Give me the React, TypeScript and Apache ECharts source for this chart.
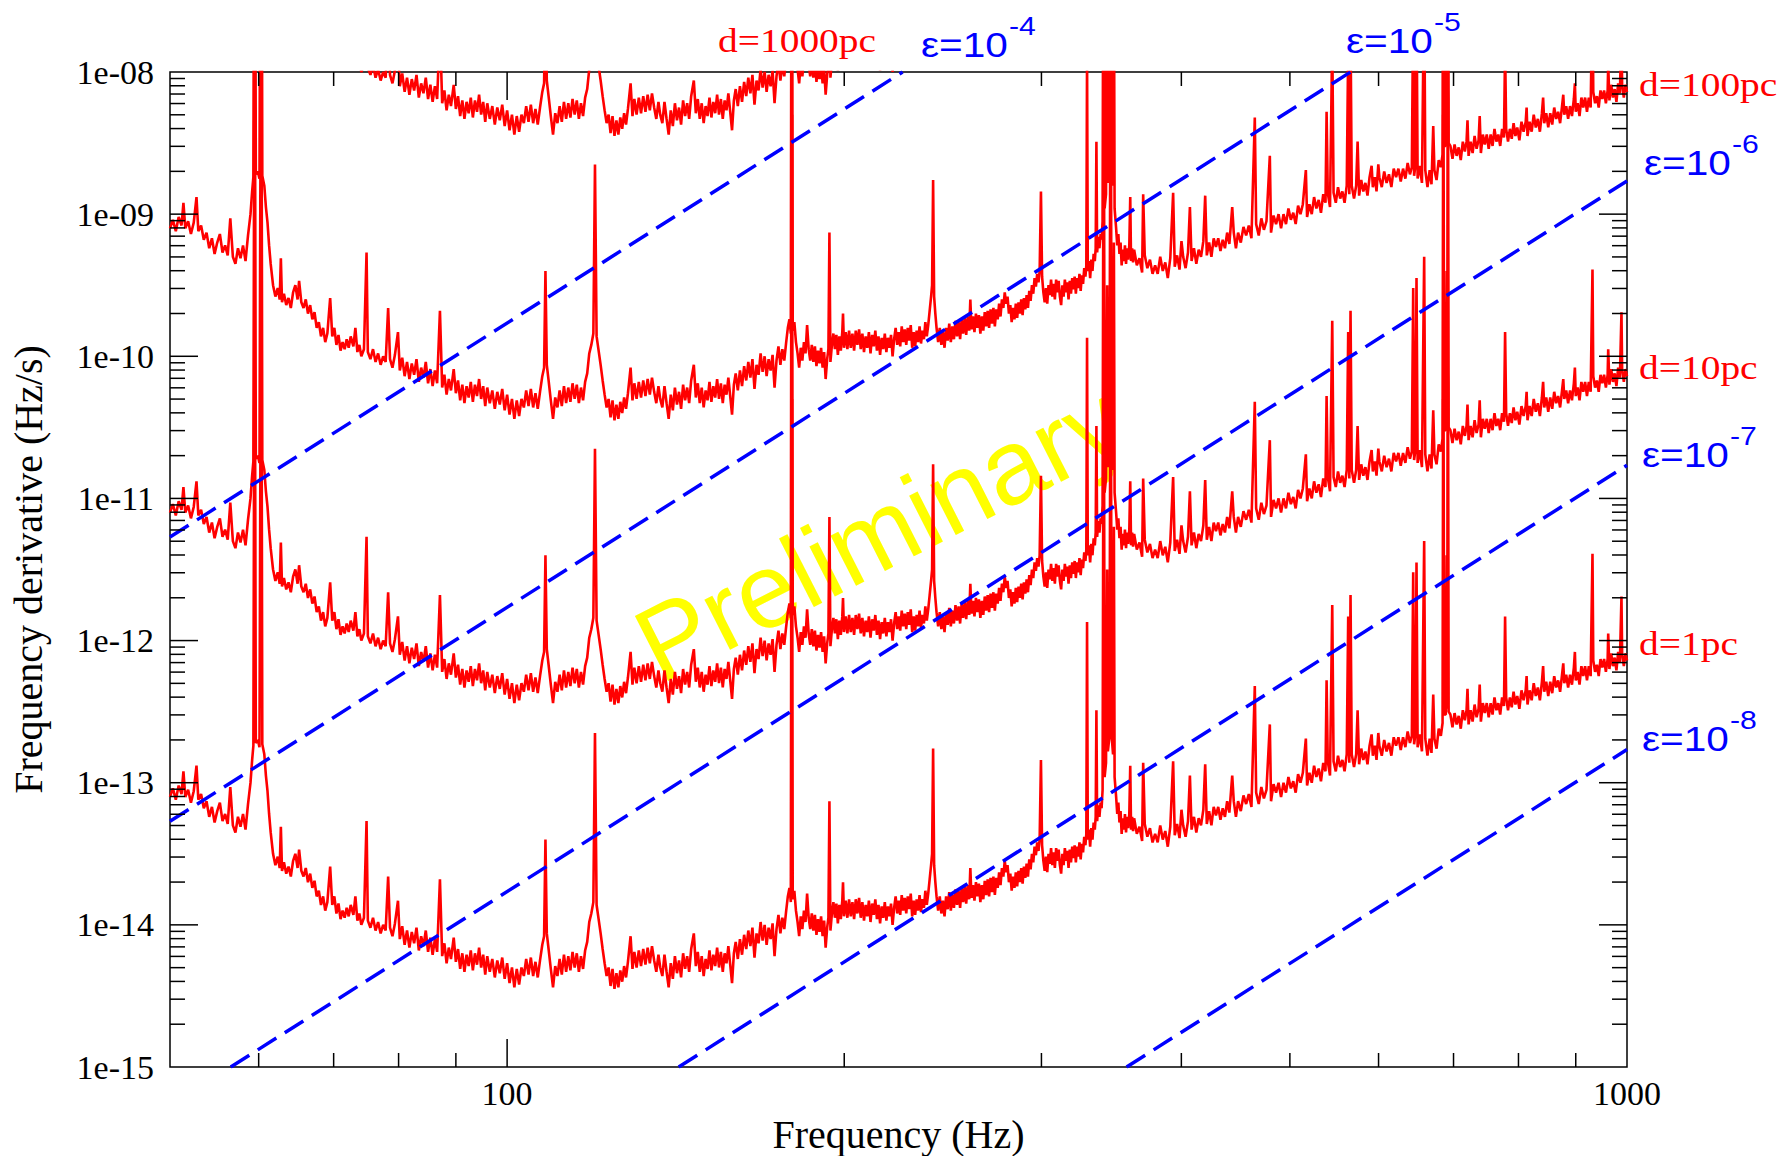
import React, { useEffect, useRef } from 'react';
import * as echarts from 'echarts';

const SERIF = "'Liberation Serif', 'Times New Roman', Times, serif";
const SANS = "'Liberation Sans', Arial, Helvetica, sans-serif";

const FREQ_MIN = 50;
const FREQ_MAX = 1000;
const FDOT_MIN = 1e-15;
const FDOT_MAX = 1e-8;

// Source distances in parsec; the detectable spin-down scales as d^2.
const DISTANCES_PC = [1, 10, 100, 1000];

// log10 of the smallest detectable frequency derivative (Hz/s) for a source at 1 pc.
const LOW_BAND: [number, number][] = [
  [50.0,-13.10],[50.3,-13.04],[50.6,-13.12],[50.9,-13.02],[51.2,-13.08],[51.4,-12.92],[51.6,-13.10],[51.9,-13.05],
  [52.2,-13.14],[52.5,-13.06],[52.8,-12.88],[53.0,-13.12],[53.3,-13.08],[53.6,-13.18],[53.9,-13.13],[54.2,-13.24],
  [54.5,-13.17],[54.8,-13.28],[55.1,-13.20],[55.4,-13.14],[55.7,-13.27],[56.0,-13.22],[56.3,-13.29],[56.6,-13.03],
  [56.9,-13.30],[57.2,-13.35],[57.5,-13.24],[57.8,-13.31],[58.1,-13.22],[58.4,-13.33],[58.7,-13.15],[59.0,-13.00],
  [59.2,-12.84],[59.35,-12.74],[59.45,-10.35],[59.55,-10.25],[59.65,-12.72],[59.9,-12.70],[60.1,-12.75],[60.25,-10.05],
  [60.35,-10.00],[60.45,-12.73],[60.7,-12.80],[60.9,-12.95],[61.1,-13.06],[61.3,-13.22],[61.5,-13.35],[61.8,-13.50],
  [62.1,-13.58],[62.4,-13.52],[62.65,-13.60],[62.8,-13.31],[62.95,-13.62],[63.2,-13.56],[63.5,-13.64],[63.8,-13.59],
  [64.1,-13.66],[64.4,-13.55],[64.7,-13.50],[65.0,-13.60],[65.2,-13.47],[65.5,-13.62],[65.8,-13.66],[66.1,-13.60],
  [66.4,-13.70],[66.7,-13.64],[67.0,-13.74],[67.3,-13.69],[67.6,-13.80],[67.9,-13.76],[68.2,-13.86],[68.5,-13.80],
  [68.8,-13.90],[69.1,-13.84],[69.5,-13.59],[69.8,-13.86],[70.1,-13.80],[70.4,-13.92],[70.7,-13.85],[71.0,-13.96],
  [71.3,-13.90],[71.6,-13.95],[71.9,-13.88],[72.2,-13.94],[72.5,-13.86],[72.9,-13.93],[73.2,-13.80],[73.5,-13.97],
  [73.8,-13.92],[74.1,-14.00],[74.5,-13.95],[74.9,-13.27],[75.1,-13.97],[75.5,-14.02],[75.9,-13.95],[76.3,-14.04],
  [76.7,-13.98],[77.1,-14.06],[77.5,-14.00],[77.9,-14.04],[78.3,-13.66],[78.6,-14.02],[79.0,-14.08],[79.4,-13.99],
  [79.9,-13.83],[80.2,-14.10],[80.6,-14.01],[81.0,-14.14],[81.4,-14.04],[81.8,-14.16],[82.2,-14.05],[82.6,-14.13],
  [83.0,-14.02],[83.4,-14.18],[83.8,-14.08],[84.2,-14.15],[84.6,-14.04],[85.0,-14.19],[85.4,-14.09],[85.8,-14.21],
  [86.2,-14.10],[86.6,-14.19],[87.1,-13.68],[87.5,-14.22],[87.9,-14.13],[88.3,-14.27],[88.7,-14.16],[89.1,-14.24],
  [89.6,-14.09],[90.0,-14.26],[90.4,-14.17],[90.8,-14.31],[91.2,-14.20],[91.6,-14.33],[92.0,-14.21],[92.4,-14.29],
  [92.8,-14.18],[93.2,-14.32],[93.6,-14.20],[94.0,-14.28],[94.4,-14.16],[94.8,-14.30],[95.2,-14.21],[95.6,-14.35],
  [96.0,-14.22],[96.5,-14.33],[97.0,-14.24],[97.5,-14.37],[98.0,-14.25],[98.5,-14.34],[99.0,-14.23],[99.5,-14.38],
  [100.0,-14.27],[100.5,-14.41],[101.0,-14.30],[101.5,-14.44],[102.0,-14.31],[102.5,-14.42],[103.0,-14.30],[103.5,-14.36],
  [104.0,-14.24],[104.5,-14.35],[105.0,-14.23],[105.5,-14.36],[106.0,-14.26],[106.5,-14.37],[107.0,-14.25],[107.5,-14.14],
  [107.9,-14.08],[108.2,-13.40],[108.5,-14.06],[108.9,-14.17],[109.4,-14.31],[109.9,-14.44],[110.4,-14.29],[110.9,-14.36],
  [111.4,-14.24],[111.9,-14.35],[112.4,-14.21],[112.9,-14.33],[113.4,-14.22],[113.9,-14.32],[114.4,-14.19],[114.9,-14.30],
  [115.4,-14.20],[115.9,-14.33],[116.4,-14.22],[116.9,-14.31],[117.4,-14.18],[117.9,-14.12],[118.4,-13.98],[118.9,-13.92],
  [119.4,-13.84],[119.8,-12.65],[120.2,-13.86],[120.7,-13.96],[121.2,-14.06],[121.7,-14.17],[122.2,-14.27],[122.7,-14.36],
  [123.2,-14.30],[123.7,-14.43],[124.2,-14.31],[124.7,-14.45],[125.2,-14.34],[125.7,-14.44],[126.2,-14.32],[126.7,-14.40],
  [127.2,-14.29],[127.7,-14.37],[128.2,-14.26],[128.9,-14.08],[129.4,-14.31],[129.9,-14.19],[130.5,-14.30],[131.1,-14.18],
  [131.7,-14.29],[132.3,-14.17],[132.9,-14.28],[133.5,-14.16],[134.1,-14.27],[134.7,-14.15],[135.3,-14.25],[135.9,-14.33],
  [136.5,-14.21],[137.0,-14.30],
];

const MID_BAND: [number, number][] = [
  [137.6,-14.36],[138.2,-14.21],[138.8,-14.33],[139.4,-14.44],[140.0,-14.27],[140.6,-14.38],[141.2,-14.22],[141.8,-14.34],
  [142.4,-14.25],[143.0,-14.37],[143.6,-14.20],[144.2,-14.31],[144.8,-14.22],[145.4,-14.33],[146.0,-14.17],[146.8,-14.06],
  [147.4,-14.29],[148.0,-14.19],[148.6,-14.33],[149.2,-14.22],[149.8,-14.36],[150.4,-14.24],[151.0,-14.31],[151.6,-14.18],
  [152.2,-14.32],[152.8,-14.21],[153.4,-14.29],[154.0,-14.16],[154.6,-14.30],[155.2,-14.19],[155.8,-14.33],[156.4,-14.20],
  [157.0,-14.27],[157.6,-14.15],[158.2,-14.28],[158.8,-14.41],[159.4,-14.20],[160.0,-14.12],[160.7,-14.24],[161.4,-14.10],
  [162.1,-14.21],[162.8,-14.07],[163.5,-14.17],[164.2,-14.04],[164.9,-14.15],[165.6,-14.02],[166.3,-14.23],[167.0,-14.06],
  [167.7,-14.13],[168.4,-13.98],[169.1,-14.11],[169.8,-14.00],[170.5,-14.14],[171.2,-14.02],[171.9,-14.10],[172.6,-13.99],
  [173.3,-14.22],[174.0,-14.03],[174.7,-13.93],[175.4,-14.06],[176.1,-13.95],[176.8,-14.03],[177.5,-13.90],[178.1,-13.80],
  [178.7,-13.74],[179.2,-13.84],[179.45,-10.35],[179.65,-10.30],[179.9,-13.82],[180.5,-13.76],[181.1,-13.90],[181.7,-13.98],
  [182.3,-14.08],[182.9,-13.94],[183.5,-14.03],[184.1,-13.90],[184.7,-13.98],[185.3,-13.78],[185.9,-13.95],[186.5,-14.03],
  [187.1,-13.92],[187.7,-14.04],[188.3,-13.93],[188.9,-14.07],[189.5,-13.96],[190.1,-14.05],[190.7,-13.94],[191.3,-14.08],
  [191.9,-13.97],[192.5,-14.16],[193.1,-14.02],[193.6,-13.95],[194.0,-13.13],[194.4,-14.04],[195.0,-13.92],[195.6,-13.84],
  [196.2,-13.95],[196.8,-13.85],[197.4,-13.99],[198.0,-13.86],[198.6,-13.96],[199.2,-13.83],[199.5,-13.70],[199.9,-13.94],
  [200.6,-13.83],[201.3,-13.95],[202.0,-13.82],[202.7,-13.94],[203.4,-13.84],[204.1,-13.96],[204.8,-13.82],[205.5,-13.92],
  [206.2,-13.81],[206.9,-13.95],[207.6,-13.84],[208.3,-13.97],[209.0,-13.86],[209.7,-13.94],[210.4,-13.83],[211.1,-13.98],
  [211.8,-13.85],[212.5,-13.93],[213.2,-13.82],[213.9,-13.96],[214.6,-13.86],[215.3,-13.99],[216.0,-13.87],[216.7,-13.95],
  [217.4,-13.84],[218.1,-13.97],[218.8,-13.87],[219.5,-13.94],[220.2,-13.85],[220.9,-14.00],[221.6,-13.88],[222.3,-13.80],
  [223.0,-13.92],[223.7,-13.83],[224.4,-13.93],[225.1,-13.79],[225.8,-13.90],[226.5,-13.81],[227.2,-13.92],[227.9,-13.80],
  [228.6,-13.89],[229.3,-13.78],[230.0,-13.94],[230.7,-13.83],[231.4,-13.93],[232.1,-13.82],[232.8,-13.90],[233.5,-13.79],
  [234.2,-13.91],[234.9,-13.82],[235.6,-13.88],[236.3,-13.76],[237.0,-13.86],[237.7,-13.78],[238.4,-13.68],[239.1,-13.58],
  [239.6,-13.50],[240.1,-12.76],[240.6,-13.58],[241.2,-13.70],[241.8,-13.80],[242.6,-13.90],[243.4,-13.80],[244.2,-13.92],
  [245.0,-13.83],[245.8,-13.94],[246.6,-13.80],[247.4,-13.89],[248.2,-13.77],[249.0,-13.90],[249.8,-13.79],[250.6,-13.88],
  [251.4,-13.75],[252.2,-13.86],[253.0,-13.76],[253.8,-13.88],[254.6,-13.74],[255.4,-13.84],[256.2,-13.73],[257.0,-13.85],
  [257.8,-13.72],[258.6,-13.82],[259.2,-13.60],[259.8,-13.81],[260.6,-13.72],[261.4,-13.83],[262.2,-13.70],[263.0,-13.80],
  [263.8,-13.71],[264.6,-13.84],[265.4,-13.72],[266.2,-13.82],[267.0,-13.69],[267.8,-13.79],[268.6,-13.68],[269.4,-13.80],
  [270.2,-13.67],[271.0,-13.77],[271.8,-13.66],[272.6,-13.79],[273.4,-13.67],[274.2,-13.74],[275.0,-13.63],[275.8,-13.72],
  [276.6,-13.60],[277.4,-13.66],[278.2,-13.55],[279.0,-13.63],[279.8,-13.58],[280.6,-13.70],[281.4,-13.64],[282.2,-13.76],
  [283.0,-13.66],[283.8,-13.74],[284.6,-13.63],[285.4,-13.73],[286.2,-13.62],[287.0,-13.70],[287.8,-13.60],[288.6,-13.71],
  [289.4,-13.59],[290.2,-13.67],[291.0,-13.57],[291.8,-13.66],[292.6,-13.54],[293.4,-13.61],[294.2,-13.50],[295.0,-13.56],
  [295.8,-13.45],[296.6,-13.51],[297.4,-13.42],[298.2,-13.48],[298.9,-13.40],[299.7,-12.84],[300.4,-13.44],[301.2,-13.55],
  [302.0,-13.62],[302.8,-13.52],[303.6,-13.63],[304.4,-13.50],[305.2,-13.57],[306.0,-13.46],[306.8,-13.58],[307.6,-13.49],
  [308.4,-13.60],[309.2,-13.46],[310.0,-13.55],[310.8,-13.47],[311.6,-13.58],[312.4,-13.64],[313.2,-13.50],[314.0,-13.58],
  [314.8,-13.46],[315.6,-13.55],[316.4,-13.48],[317.2,-13.60],[318.0,-13.47],[318.8,-13.56],[319.6,-13.45],[320.4,-13.53],
  [321.2,-13.44],[322.0,-13.56],[322.8,-13.45],[323.6,-13.52],[324.4,-13.42],[325.2,-13.54],[326.0,-13.43],[326.8,-13.49],
  [327.6,-13.38],[328.4,-13.44],[329.0,-13.36],[329.5,-11.87],[330.0,-13.40],[330.8,-13.33],[331.6,-13.45],[332.4,-13.32],
  [333.2,-13.40],[334.0,-13.28],[334.8,-13.33],[335.4,-13.24],[335.9,-12.49],[336.4,-13.27],[337.2,-13.16],[338.0,-13.24],
  [338.8,-13.14],[339.5,-13.18],[340.2,-13.05],[340.8,-10.30],[341.2,-10.40],[341.6,-12.96],[342.6,-12.86],[343.4,-11.50],
  [343.9,-12.78],[345.0,-12.68],[345.7,-10.05],[346.1,-10.00],[346.5,-12.66],[347.6,-12.80],[348.2,-11.20],[348.7,-12.96],
  [349.8,-13.10],[350.6,-13.22],[351.4,-13.14],[352.2,-13.28],[353.0,-13.20],[353.8,-13.36],[354.6,-13.25],[355.4,-13.33],
  [356.2,-13.22],[357.0,-13.35],[357.8,-13.24],[358.6,-13.32],[359.4,-13.22],[360.1,-12.88],[360.7,-13.33],[361.5,-13.24],
  [362.2,-13.34],
];

const HIGH_BAND: [number, number][] = [
  [363.0,-13.25],[365.0,-13.36],[367.0,-13.31],[369.0,-13.41],[369.8,-12.86],[371.0,-13.29],[373.0,-13.38],[375.0,-13.32],
  [377.0,-13.42],[379.0,-13.36],[381.0,-13.42],[383.0,-13.30],[385.0,-13.40],[387.0,-13.34],[389.0,-13.45],[391.0,-13.31],
  [393.3,-12.85],[394.6,-13.37],[396.5,-13.29],[398.5,-13.39],[400.1,-13.19],[401.5,-13.30],[403.5,-13.38],[405.5,-13.27],
  [407.1,-12.95],[408.5,-13.33],[410.5,-13.24],[412.5,-13.35],[414.5,-13.25],[416.5,-13.30],[418.5,-13.19],[420.1,-12.87],
  [421.5,-13.29],[423.5,-13.20],[425.5,-13.30],[427.5,-13.17],[429.5,-13.23],[431.5,-13.17],[433.5,-13.26],[435.5,-13.18],
  [437.5,-13.24],[439.5,-13.13],[441.5,-13.21],[444.1,-12.95],[445.5,-13.13],[447.5,-13.24],[449.5,-13.13],[452.0,-13.20],
  [454.5,-13.09],[457.0,-13.15],[459.5,-13.08],[462.0,-13.17],[465.2,-12.32],[466.5,-13.07],[469.0,-13.15],[471.5,-13.03],
  [474.0,-13.11],[476.5,-13.05],[479.8,-12.59],[481.0,-13.13],[483.5,-13.01],[486.0,-13.07],[488.5,-13.00],[491.0,-13.10],
  [493.5,-13.00],[496.0,-13.07],[498.5,-12.96],[501.0,-13.04],[503.5,-12.99],[506.0,-13.07],[508.5,-12.94],[511.0,-13.00],
  [513.5,-12.93],[516.7,-12.69],[518.0,-13.02],[520.5,-12.93],[523.0,-13.00],[525.5,-12.88],[528.0,-12.96],[530.5,-12.90],
  [533.0,-12.99],[535.5,-12.86],[538.0,-12.92],[539.2,-12.28],[540.5,-12.85],[543.0,-12.95],[545.5,-11.75],[547.0,-12.85],
  [549.5,-12.92],[552.0,-12.81],[554.5,-12.89],[557.0,-12.84],[559.5,-12.92],[562.0,-12.80],[563.7,-11.83],[565.0,-12.86],
  [566.4,-11.68],[567.8,-12.80],[570.5,-12.89],[573.0,-12.80],[574.7,-12.49],[576.5,-12.87],[579.0,-12.76],[581.5,-12.84],
  [584.0,-12.78],[586.5,-12.87],[589.0,-12.74],[591.5,-12.66],[593.0,-12.81],[595.5,-12.74],[597.5,-12.84],[599.7,-12.65],
  [601.0,-12.74],[604.0,-12.81],[607.0,-12.70],[610.0,-12.78],[613.0,-12.72],[616.0,-12.81],[619.0,-12.68],[622.0,-12.74],
  [625.0,-12.68],[628.0,-12.77],[631.0,-12.68],[634.0,-12.75],[637.0,-12.64],[640.0,-12.72],[642.5,-12.67],[644.3,-11.52],
  [645.5,-12.73],[647.2,-12.66],[648.7,-11.45],[650.2,-12.75],[653.0,-12.66],[656.0,-12.78],[659.0,-11.30],[660.5,-12.69],
  [663.5,-12.81],[666.5,-12.69],[669.0,-12.79],[671.4,-12.38],[673.0,-12.69],[676.0,-12.76],[679.0,-12.62],[682.0,-12.67],
  [684.4,-12.58],[685.2,-10.30],[685.8,-10.40],[686.6,-12.52],[689.0,-12.52],[690.2,-11.40],[691.0,-12.48],[691.6,-10.10],
  [692.2,-10.20],[693.0,-12.50],[695.5,-12.52],[698.5,-12.61],[701.5,-12.51],[704.5,-12.59],[707.5,-12.53],[710.5,-12.62],
  [713.5,-12.49],[716.5,-12.56],[719.0,-12.49],[720.4,-12.34],[722.0,-12.59],[725.0,-12.49],[728.0,-12.57],[731.0,-12.45],
  [734.0,-12.54],[737.0,-12.48],[738.7,-12.31],[740.5,-12.57],[743.5,-12.44],[746.5,-12.51],[749.5,-12.44],[752.5,-12.54],
  [755.5,-12.44],[758.5,-12.52],[761.5,-12.40],[764.5,-12.49],[767.5,-12.44],[770.5,-12.52],[773.5,-12.40],[776.5,-12.46],
  [778.3,-11.83],[780.0,-12.40],[783.0,-12.49],[786.0,-12.40],[789.0,-12.47],[792.0,-12.36],[795.0,-12.45],[798.0,-12.39],
  [801.5,-12.48],[805.0,-12.35],[808.5,-12.42],[812.0,-12.35],[813.5,-12.25],[815.0,-12.45],[818.5,-12.35],[822.0,-12.42],
  [825.5,-12.30],[829.0,-12.39],[832.5,-12.33],[836.0,-12.42],[839.5,-12.29],[841.6,-12.18],[843.5,-12.36],[847.0,-12.29],
  [850.5,-12.39],[854.0,-12.29],[857.5,-12.37],[861.0,-12.25],[864.5,-12.33],[868.0,-12.28],[871.5,-12.36],[875.0,-12.24],
  [877.2,-12.16],[879.0,-12.30],[882.5,-12.24],[886.0,-12.33],[889.5,-12.24],[893.0,-12.31],[896.5,-12.19],[898.4,-12.08],
  [900.0,-12.28],[903.5,-12.22],[907.0,-12.31],[910.5,-12.18],[914.0,-12.25],[917.5,-12.18],[921.0,-12.28],[924.5,-12.18],
  [928.0,-12.25],[931.5,-11.39],[933.0,-12.14],[936.5,-12.22],[940.0,-12.17],[943.5,-12.25],[947.0,-12.13],[950.5,-12.19],
  [954.0,-12.13],[957.5,-12.22],[961.0,-12.13],[962.1,-11.95],[964.5,-12.20],[968.0,-12.09],[971.5,-12.18],[975.0,-12.12],
  [978.5,-12.21],[982.0,-12.08],[985.5,-12.15],[988.7,-11.69],[990.0,-12.09],[993.5,-12.18],[997.0,-12.09],[1000.0,-12.14],
];

// Spin-down limits for fixed ellipticity: straight lines on the log-log plane.
const EPSILON_EXPONENTS = ['-4', '-5', '-6', '-7', '-8'];
const EPSILON_LINES: [number, number][][] = [
  [[50, 5.35e-12], [225.5, 1e-8]],
  [[50, 5.35e-14], [566.4, 1e-8]],
  [[56.65, 1e-15], [1000, 1.712e-9]],
  [[142.3, 1e-15], [1000, 1.712e-11]],
  [[357.4, 1e-15], [1000, 1.712e-13]],
];

const Y_DECADE_EXPONENTS = [-15, -14, -13, -12, -11, -10, -9, -8];
const MINOR_MANTISSAS = [2, 3, 4, 5, 6, 7, 8, 9];
const X_MAJOR_TICKS = [100];
const X_MINOR_TICKS = [60, 70, 80, 90, 200, 300, 400, 500, 600, 700, 800, 900];

// Label placement (pixels)
const DISTANCE_LABELS = [
  { text: 'd=1000pc', x: 718, y: 40 },
  { text: 'd=100pc', x: 1639, y: 84 },
  { text: 'd=10pc', x: 1639, y: 367 },
  { text: 'd=1pc', x: 1639, y: 643 },
];
const EPSILON_LABEL_POS: [number, number][] = [
  [921, 45], [1346, 41], [1644, 163], [1642, 455], [1642, 739],
];

const RED = '#ff0000';
const BLUE = '#0000ff';
const TEXT_STRETCH = 1.16;

function isDecade(v: number) {
  const e = Math.log10(v);
  return Math.abs(e - Math.round(e)) < 1e-6;
}

function buildOption() {
  const spectrum = [...LOW_BAND, ...MID_BAND, ...HIGH_BAND];

  const distanceSeries = DISTANCES_PC.map((d) => ({
    type: 'line',
    name: `d=${d}pc`,
    data: spectrum.map(([f, lv]) => [f, Math.pow(10, lv + 2 * Math.log10(d))]),
    showSymbol: false,
    symbol: 'none',
    clip: true,
    silent: true,
    z: 3,
    lineStyle: { color: RED, width: 2.6 },
  }));

  const epsilonSeries = EPSILON_LINES.map((pts, i) => ({
    type: 'line',
    name: `ε=10^${EPSILON_EXPONENTS[i]}`,
    data: pts,
    showSymbol: false,
    symbol: 'none',
    clip: true,
    silent: true,
    z: 4,
    lineStyle: { color: BLUE, width: 3.5, type: [22, 10] },
  }));

  // tick marks: [x, y, kind] with kind 0 = y major, 1 = y minor, 2 = x major, 3 = x minor
  const tickData: number[][] = [];
  Y_DECADE_EXPONENTS.slice(1, -1).forEach((e) => tickData.push([FREQ_MIN, Math.pow(10, e), 0]));
  Y_DECADE_EXPONENTS.slice(0, -1).forEach((e) =>
    MINOR_MANTISSAS.forEach((m) => tickData.push([FREQ_MIN, m * Math.pow(10, e), 1])),
  );
  X_MAJOR_TICKS.forEach((f) => tickData.push([f, FDOT_MIN, 2]));
  X_MINOR_TICKS.forEach((f) => tickData.push([f, FDOT_MIN, 3]));

  const tickSeries = {
    type: 'custom',
    silent: true,
    clip: false,
    z: 6,
    data: tickData,
    renderItem: (_params: any, api: any) => {
      const kind = api.value(2);
      const style = { stroke: '#000', lineWidth: 1.5 };
      if (kind < 2) {
        const v = api.value(1);
        const len = kind === 0 ? 28 : 15;
        const [xl, y] = api.coord([FREQ_MIN, v]);
        const [xr] = api.coord([FREQ_MAX, v]);
        return {
          type: 'group',
          children: [
            { type: 'line', shape: { x1: xl, y1: y, x2: xl + len, y2: y }, style },
            { type: 'line', shape: { x1: xr, y1: y, x2: xr - len, y2: y }, style },
          ],
        };
      }
      const f = api.value(0);
      const len = kind === 2 ? 28 : 14;
      const [x, yb] = api.coord([f, FDOT_MIN]);
      const [, yt] = api.coord([f, FDOT_MAX]);
      return {
        type: 'group',
        children: [
          { type: 'line', shape: { x1: x, y1: yb, x2: x, y2: yb - len }, style },
          { type: 'line', shape: { x1: x, y1: yt, x2: x, y2: yt + len }, style },
        ],
      };
    },
  };

  // width of the "ε=10" part, to place the exponent right after it
  const ctx = document.createElement('canvas').getContext('2d');
  let mainWidth = 75;
  if (ctx) {
    ctx.font = `35px ${SANS}`;
    mainWidth = ctx.measureText('ε=10').width * TEXT_STRETCH;
  }

  const graphics: any[] = [
    {
      type: 'text',
      x: 880,
      y: 532,
      rotation: 0.47,
      z: 1,
      silent: true,
      style: {
        text: 'Preliminary',
        fill: '#ffff00',
        fontSize: 106,
        fontFamily: SANS,
        align: 'center',
        verticalAlign: 'middle',
        textAlign: 'center',
        textVerticalAlign: 'middle',
      },
    },
  ];

  DISTANCE_LABELS.forEach((l) => {
    graphics.push({
      type: 'text',
      x: l.x,
      y: l.y,
      scaleX: TEXT_STRETCH,
      z: 10,
      silent: true,
      style: {
        text: l.text,
        fill: RED,
        fontSize: 34,
        fontFamily: SERIF,
        align: 'left',
        verticalAlign: 'middle',
        textAlign: 'left',
        textVerticalAlign: 'middle',
      },
    });
  });

  EPSILON_EXPONENTS.forEach((exp, i) => {
    const [x, y] = EPSILON_LABEL_POS[i];
    graphics.push({
      type: 'group',
      x,
      y,
      z: 10,
      silent: true,
      children: [
        {
          type: 'text',
          x: 0,
          y: 0,
          scaleX: TEXT_STRETCH,
          style: {
            text: 'ε=10',
            fill: BLUE,
            fontSize: 35,
            fontFamily: SANS,
            align: 'left',
            verticalAlign: 'middle',
            textAlign: 'left',
            textVerticalAlign: 'middle',
          },
        },
        {
          type: 'text',
          x: mainWidth + 1,
          y: -19,
          scaleX: TEXT_STRETCH,
          style: {
            text: exp,
            fill: BLUE,
            fontSize: 26,
            fontFamily: SANS,
            align: 'left',
            verticalAlign: 'middle',
            textAlign: 'left',
            textVerticalAlign: 'middle',
          },
        },
      ],
    });
  });

  return {
    animation: false,
    backgroundColor: '#ffffff',
    grid: {
      left: 170,
      top: 72,
      width: 1457,
      height: 995,
      show: true,
      borderColor: '#000',
      borderWidth: 1.5,
      backgroundColor: 'transparent',
      containLabel: false,
      outerBoundsMode: 'none',
    },
    xAxis: {
      type: 'log',
      logBase: 10,
      min: FREQ_MIN,
      max: FREQ_MAX,
      name: 'Frequency (Hz)',
      nameLocation: 'middle',
      nameGap: 47,
      nameTextStyle: { fontFamily: SERIF, fontSize: 40, color: '#000' },
      axisLine: { show: false },
      axisTick: { show: false },
      minorTick: { show: false },
      splitLine: { show: false },
      axisLabel: {
        fontFamily: SERIF,
        fontSize: 34,
        color: '#000',
        margin: 9,
        showMinLabel: false,
        formatter: (v: number) => (isDecade(v) ? String(Math.round(v)) : ''),
      },
    },
    yAxis: {
      type: 'log',
      logBase: 10,
      min: FDOT_MIN,
      max: FDOT_MAX,
      name: 'Frequency derivative (Hz/s)',
      nameLocation: 'middle',
      nameGap: 122,
      nameTextStyle: { fontFamily: SERIF, fontSize: 40, color: '#000' },
      axisLine: { show: false },
      axisTick: { show: false },
      minorTick: { show: false },
      splitLine: { show: false },
      axisLabel: {
        fontFamily: SERIF,
        fontSize: 34,
        color: '#000',
        margin: 16,
        formatter: (v: number) => {
          const e = Math.round(Math.log10(v));
          return '1e-' + String(-e).padStart(2, '0');
        },
      },
    },
    graphic: { elements: graphics },
    series: [...distanceSeries, ...epsilonSeries, tickSeries],
  };
}

export default function App() {
  const ref = useRef<HTMLDivElement>(null);

  useEffect(() => {
    if (!ref.current) return;
    const chart = echarts.init(ref.current, undefined, { renderer: 'svg' });
    chart.setOption(buildOption() as any);
    return () => chart.dispose();
  }, []);

  return (
    <div
      ref={ref}
      style={{ position: 'fixed', left: 0, top: 0, width: 1788, height: 1156, background: '#fff' }}
    />
  );
}
